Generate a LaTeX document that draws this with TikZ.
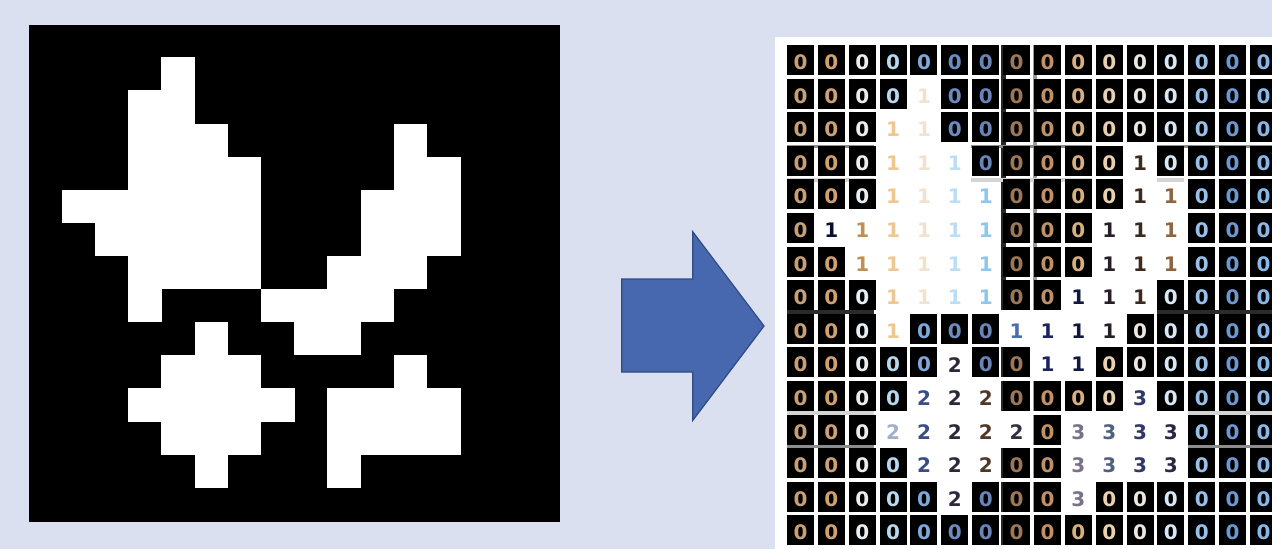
\documentclass[tikz,border=0pt]{standalone}
\usepackage{fontspec}
\newfontfamily\dfont{DejaVu Sans}
\definecolor{bg}{HTML}{DAE0F0}
\definecolor{arrowfill}{HTML}{4767AE}
\definecolor{arrowline}{HTML}{2F4B85}
% colours of the 0 digits, per column
\definecolor{d0x0}{HTML}{C8A078}\definecolor{d0x1}{HTML}{D0A070}
\definecolor{d0x2}{HTML}{E8EEF2}\definecolor{d0x3}{HTML}{B8D8F0}
\definecolor{d0x4}{HTML}{7EA8D8}\definecolor{d0x5}{HTML}{6C8CC0}
\definecolor{d0x6}{HTML}{6A84B8}\definecolor{d0x7}{HTML}{9C7858}
\definecolor{d0x8}{HTML}{C09068}\definecolor{d0x9}{HTML}{D8B080}
\definecolor{d0x10}{HTML}{E8D0B0}\definecolor{d0x11}{HTML}{ECE8E0}
\definecolor{d0x12}{HTML}{D8E8F6}\definecolor{d0x13}{HTML}{98C0E8}
\definecolor{d0x14}{HTML}{6E98D0}\definecolor{d0x15}{HTML}{88B8E8}
% colours of the 1 digits
\definecolor{d1x1}{HTML}{0C1030}\definecolor{d1x2}{HTML}{C09050}
\definecolor{d1x3}{HTML}{EEC690}\definecolor{d1x4}{HTML}{F0E2CC}
\definecolor{d1x5}{HTML}{BCDEF4}\definecolor{d1x6}{HTML}{8CC8EE}
\definecolor{d1x7}{HTML}{4A6CB0}\definecolor{d1x8}{HTML}{1A2460}
\definecolor{d1x9}{HTML}{101840}\definecolor{d1x10}{HTML}{281E28}
\definecolor{d1x11}{HTML}{3A2A20}\definecolor{d1x12}{HTML}{8C6440}
% colours of the 2 digits
\definecolor{d2x3}{HTML}{A0B0C8}\definecolor{d2x4}{HTML}{3A4C88}
\definecolor{d2x5}{HTML}{30283A}\definecolor{d2x6}{HTML}{503828}
\definecolor{d2x7}{HTML}{303040}
% colours of the 3 digits
\definecolor{d3x9}{HTML}{7A7088}\definecolor{d3x10}{HTML}{506080}
\definecolor{d3x11}{HTML}{303868}\definecolor{d3x12}{HTML}{282848}
\tikzset{
  whitecell/.style={fill=white},
  tile/.style={fill=black},
  digit/.style={font=\dfont\bfseries\fontsize{20}{20}\selectfont, inner sep=0pt},
  darkstrip/.style={fill=black!85},
  graystrip/.style={fill=black!40},
  midbar/.style={fill=black!45},
  lightbar/.style={fill=black!17},
  darkbar/.style={fill=black!83},
  bigarrow/.style={fill=arrowfill, draw=arrowline, line width=1.2pt, line join=miter},
}
\def\labelrows{%
{0,0,0,0,0,0,0,0,0,0,0,0,0,0,0,0},%
{0,0,0,0,1,0,0,0,0,0,0,0,0,0,0,0},%
{0,0,0,1,1,0,0,0,0,0,0,0,0,0,0,0},%
{0,0,0,1,1,1,0,0,0,0,0,1,0,0,0,0},%
{0,0,0,1,1,1,1,0,0,0,0,1,1,0,0,0},%
{0,1,1,1,1,1,1,0,0,0,1,1,1,0,0,0},%
{0,0,1,1,1,1,1,0,0,0,1,1,1,0,0,0},%
{0,0,0,1,1,1,1,0,0,1,1,1,0,0,0,0},%
{0,0,0,1,0,0,0,1,1,1,1,0,0,0,0,0},%
{0,0,0,0,0,2,0,0,1,1,0,0,0,0,0,0},%
{0,0,0,0,2,2,2,0,0,0,0,3,0,0,0,0},%
{0,0,0,2,2,2,2,2,0,3,3,3,3,0,0,0},%
{0,0,0,0,2,2,2,0,0,3,3,3,3,0,0,0},%
{0,0,0,0,0,2,0,0,0,3,0,0,0,0,0,0},%
{0,0,0,0,0,0,0,0,0,0,0,0,0,0,0,0}}
\begin{document}
\begin{tikzpicture}[x=1pt,y=-1pt]
\fill[bg] (0,0) rectangle (1272,549);
\useasboundingbox (0,0) rectangle (1272,549);
% ---------- left binary image ----------
\fill[black] (28.7,24.5) rectangle (559.9,521.7);
\foreach \row [count=\ri from 0] in \labelrows {
  \foreach \val [count=\ci from 0] in \row {
    \ifnum\val>0
      \fill[whitecell] ({28.5+33.2*\ci},{24.3+33.07*\ri}) rectangle ++(33.6,33.47);
    \fi
  }
}
% ---------- arrow ----------
\draw[bigarrow] (621.7,279) -- (692.7,279) -- (692.7,231.7) -- (764,326)
  -- (692.7,420.5) -- (692.7,372) -- (621.7,372) -- cycle;
% ---------- right labelled grid ----------
\fill[white] (775,36.7) rectangle (1273,550);
% resampling streaks between tiles
\foreach \ri in {0,...,7,9,10,12,13,14}
  \fill[darkstrip] (1000.5,{45+33.6*\ri}) rectangle ++(5,30);
\fill[darkstrip] (1000.5,45) rectangle (1005.5,280);
\foreach \ri in {0,...,7,10,11,12,13}
  \fill[graystrip] (1032.5,{45+33.6*\ri}) rectangle ++(4,30);
\fill[graystrip] (1032.5,45) rectangle (1036.5,280);
\fill[midbar] (787,144.6) rectangle (874,148.2);
\fill[midbar] (971,144.6) rectangle (1092,148.2);
\fill[midbar] (1157,144.6) rectangle (1273,148.2);
\fill[lightbar] (787,178.2) rectangle (874,181.8);
\fill[lightbar] (971,178.2) rectangle (1092,181.8);
\fill[lightbar] (1157,178.2) rectangle (1184,181.8);
\fill[darkbar] (787,310.2) rectangle (874,313.8);
\fill[darkbar] (1157,310.2) rectangle (1273,313.8);
\fill[lightbar] (787,411.2) rectangle (874,414.8);
\fill[lightbar] (1188,411.2) rectangle (1273,414.8);
\fill[midbar] (787,444.8) rectangle (874,448.4);
\fill[midbar] (1188,444.8) rectangle (1273,448.4);
\foreach \row [count=\ri from 0] in \labelrows {
  \foreach \val [count=\ci from 0] in \row {
    \ifnum\val=0
      \fill[tile] ({787+30.87*\ci},{45+33.6*\ri}) rectangle ++(27,30);
    \fi
    \node[digit, text=d\val x\ci] (t-\ri-\ci) at ({800.5+30.87*\ci},{62.3+33.6*\ri}) {\val};
  }
}
\end{tikzpicture}
\end{document}
